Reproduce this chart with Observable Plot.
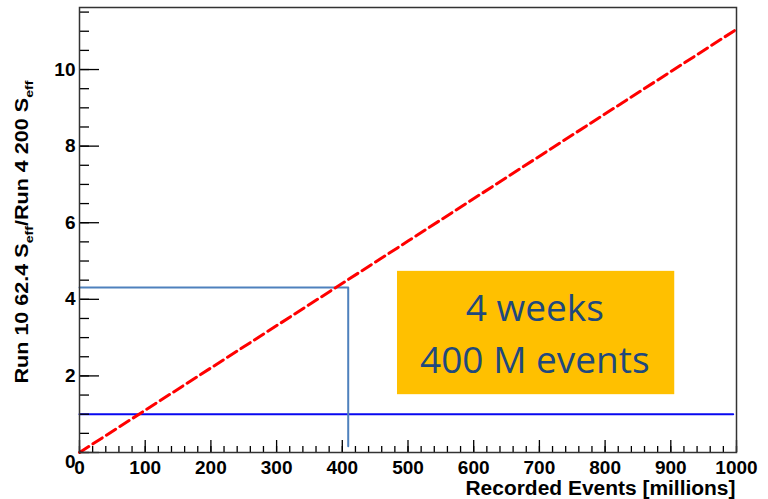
<!DOCTYPE html>
<html>
<head>
<meta charset="utf-8">
<script src="https://cdn.jsdelivr.net/npm/d3@7"></script>
<script src="https://cdn.jsdelivr.net/npm/@observablehq/plot@0.6"></script>
<style>
  html, body { margin: 0; padding: 0; background: #fff; }
  #chart { width: 768px; height: 499px; }
</style>
</head>
<body>
<div id="chart"></div>
<script>
// ---- data ----
const redX = [0, 250, 500, 750, 1000];          // recorded events [millions]
const redY = [0, 2.76, 5.52, 8.29, 11.05];       // S_eff ratio (dashed red)
const refLevelY = 1;                             // blue reference line
const refLevelX = [0, 995];
const markX = [0, 409, 409];                     // steel-blue guide
const markY = [4.31, 4.31, 0.16];
const boxX = [484, 906];
const boxY = [1.51, 4.73];
const boxLines = ["4 weeks", "400 M events"];
const boxLineX = [693, 693];
const boxLineY = [3.73, 2.38];
const xTicks = [0, 100, 200, 300, 400, 500, 600, 700, 800, 900, 1000];
const yTicks = [2, 4, 6, 8, 10];
const xMinorTicks = d3.range(0, 1001, 20);
const yMinorTicks = d3.range(0, 11.6, 0.5);
const xTitle = "Recorded Events [millions]";
const yTitleParts = ["Run 10 62.4 S", "eff", "/Run 4 200 S", "eff"];
const yTitle = yTitleParts.join("");

const redData = redX.map((x, i) => ({x, y: redY[i]}));
const markData = markX.map((x, i) => ({x, y: markY[i]}));
const refData = refLevelX.map(x => ({x, y: refLevelY}));
const boxData = [{x1: boxX[0], x2: boxX[1], y1: boxY[0], y2: boxY[1]}];
const boxText = boxLines.map((t, i) => ({t, x: boxLineX[i], y: boxLineY[i]}));

const font = "'Liberation Sans', Arial, sans-serif";

const plot = Plot.plot({
  width: 768,
  height: 499,
  marginLeft: 79,
  marginRight: 32,
  marginTop: 7,
  marginBottom: 47,
  style: {fontFamily: font, fontWeight: "bold", fontSize: "19px", color: "#000", background: "#fff"},
  x: {domain: [0, 1000], label: null},
  y: {domain: [0, 11.62], label: null},
  marks: [
    // box annotation
    Plot.rect(boxData, {x1: "x1", x2: "x2", y1: "y1", y2: "y2", fill: "#ffc000"}),
    Plot.text(boxText, {x: "x", y: "y", text: "t", fill: "#1f497d", fontFamily: "'Open Sans', sans-serif",
      fontWeight: "normal", fontSize: 37, lineAnchor: "middle"}),
    // reference lines
    Plot.line(refData, {x: "x", y: "y", stroke: "#0808f0", strokeWidth: 2}),
    Plot.line(markData, {x: "x", y: "y", stroke: "#4f81bd", strokeWidth: 2}),
    Plot.line(redData, {x: "x", y: "y", stroke: "#ff0000", strokeWidth: 3, strokeDasharray: "11,5"}),
    // axes: inner ticks
    Plot.axisX({ticks: xMinorTicks, tickSize: 6, dy: -6, fill: "none", strokeWidth: 1.3, label: null}),
    Plot.axisX({ticks: xTicks, tickSize: 12, dy: -12, fill: "none", strokeWidth: 1.3, label: null}),
    Plot.axisY({ticks: yMinorTicks, tickSize: 10, dx: 10, fill: "none", strokeWidth: 1.3, label: null}),
    Plot.axisY({ticks: [0, ...yTicks], tickSize: 20, dx: 20, fill: "none", strokeWidth: 1.3, label: null}),
    // tick labels
    Plot.axisX({ticks: xTicks, tickSize: 0, tickPadding: 8, tickFormat: d => String(d), label: null}),
    Plot.axisY({ticks: yTicks, tickSize: 0, tickPadding: 4, tickFormat: d => String(d), label: null}),
    Plot.axisY({ticks: [0], tickSize: 0, tickPadding: 4, dy: 9, tickFormat: d => String(d), label: null}),
    // titles
    Plot.text([xTitle], {text: d => d, frameAnchor: "bottom-right", textAnchor: "end", lineAnchor: "middle",
      dx: -1, dy: 36, fontSize: 20}),
    Plot.text([yTitle], {text: d => d, frameAnchor: "top-left", textAnchor: "end", lineAnchor: "bottom",
      rotate: -90, dx: -51.5, dy: 73, fontSize: 17.5}),
    Plot.frame({stroke: "#333", strokeWidth: 1.5})
  ]
});

// Render the subscripts of the y-axis title as real tspans; stretch titles to the reference length
d3.select(plot).selectAll("text").each(function () {
  if (this.textContent === yTitle) {
    const t = d3.select(this);
    t.text(null);
    t.attr("textLength", 303).attr("lengthAdjust", "spacingAndGlyphs");
    t.append("tspan").text(yTitleParts[0]);
    t.append("tspan").attr("dy", 5).attr("font-size", 11.5).text(yTitleParts[1]);
    t.append("tspan").attr("dy", -5).text(yTitleParts[2]);
    t.append("tspan").attr("dy", 5).attr("font-size", 11.5).text(yTitleParts[3]);
  } else if (this.textContent === xTitle) {
    d3.select(this).attr("textLength", 270).attr("lengthAdjust", "spacingAndGlyphs");
  }
});

document.getElementById("chart").appendChild(plot);
</script>
</body>
</html>
